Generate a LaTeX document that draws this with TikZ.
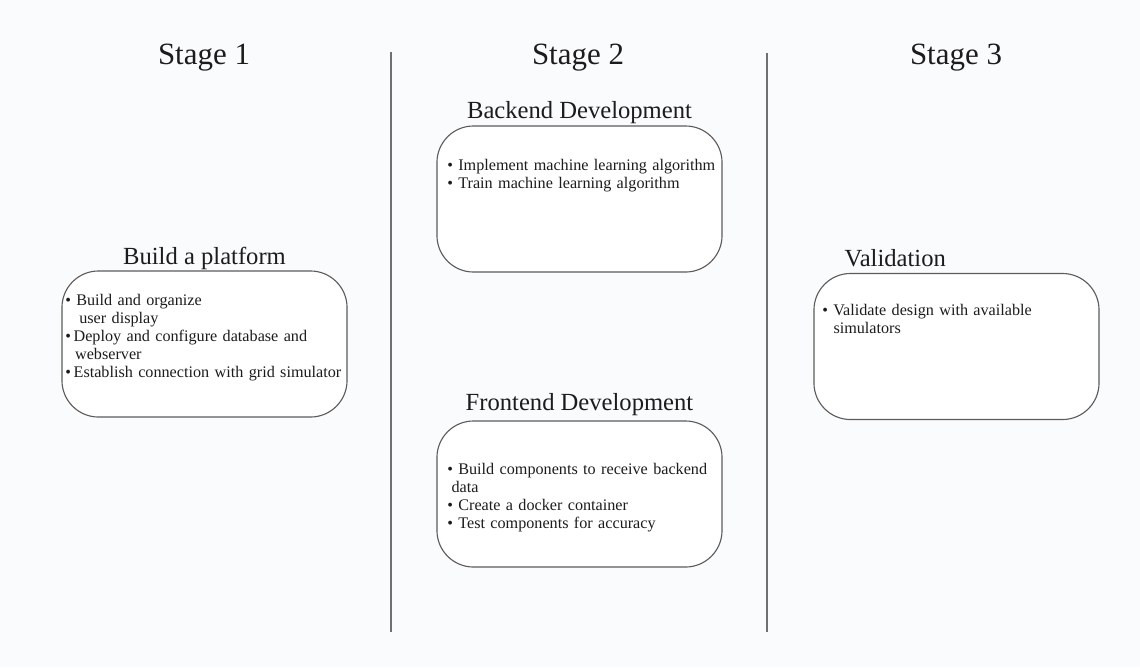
\documentclass[tikz,border=0pt]{standalone}
\usepackage{fontspec}
\setmainfont{Liberation Serif}
\usetikzlibrary{positioning}
\definecolor{paper}{HTML}{FAFBFD}
\definecolor{ink}{HTML}{1C1C1C}
\definecolor{rule}{HTML}{707070}
\definecolor{frame}{HTML}{5C5C5C}
\tikzset{
  every node/.style={text=ink,inner sep=0pt},
  stagehead/.style={font=\fontsize{22}{26}\selectfont,anchor=base},
  phasebox/.style={draw=frame,line width=0.8pt,fill=white,rounded corners=26pt,minimum width=7.125cm,minimum height=3.65cm},
  phasetitle/.style={font=\fontsize{17.5}{21}\selectfont},
  bullets/.style={font=\fontsize{11.5}{12.8}\selectfont,align=left,text width=7cm,anchor=base west},
  divider/.style={draw=rule,line width=2pt},
}

\begin{document}
\begin{tikzpicture}[x=0.025cm,y=-0.025cm]
  \fill[paper] (0,0) rectangle (1140,667);
  \useasboundingbox (0,0) rectangle (1140,667);

  \node[stagehead] (stage1) at (204,64) {Stage 1};
  \node[stagehead] (stage2) at (578,64) {Stage 2};
  \node[stagehead] (stage3) at (956,64) {Stage 3};

  \coordinate (div1top) at (391,52); \coordinate (div1bot) at (391,632);
  \coordinate (div2top) at (767,53); \coordinate (div2bot) at (767,632);
  \draw[divider] (div1top) -- (div1bot);
  \draw[divider] (div2top) -- (div2bot);

  \node[phasebox] (platform) at (204.5,344) {};
  \node[phasebox] (backend) at (579.5,199) {};
  \node[phasebox] (frontend) at (579.5,494) {};
  \node[phasebox] (validation) at (956.5,346.5) {};

  \node[phasetitle,above=0pt of platform] (platformT) {Build a platform};
  \node[phasetitle,above=1.2pt of backend] (backendT) {Backend Development};
  \node[phasetitle,above=3.3pt of frontend] (frontendT) {Frontend Development};
  \node[phasetitle,above=4.3pt of validation,xshift=-1.53cm] (validationT) {Validation};

  \node[bullets] (platformL) at (65,305) {\textbullet\ Build and organize\\
    \hspace*{10pt}user display\\
    \textbullet\,Deploy and configure database and\\
    \hspace*{7pt}webserver\\
    \textbullet\,Establish connection with grid simulator};
  \node[bullets] (backendL) at (447,170) {\textbullet\ Implement machine learning algorithm\\
    \textbullet\ Train machine learning algorithm};
  \node[bullets] (frontendL) at (447,474) {\textbullet\ Build components to receive backend\\
    \hspace*{3pt}data\\
    \textbullet\ Create a docker container\\
    \textbullet\ Test components for accuracy};
  \node[bullets] (validationL) at (822,315) {\textbullet\ Validate design with available\\
    \hspace*{8pt}simulators};
\end{tikzpicture}
\end{document}
